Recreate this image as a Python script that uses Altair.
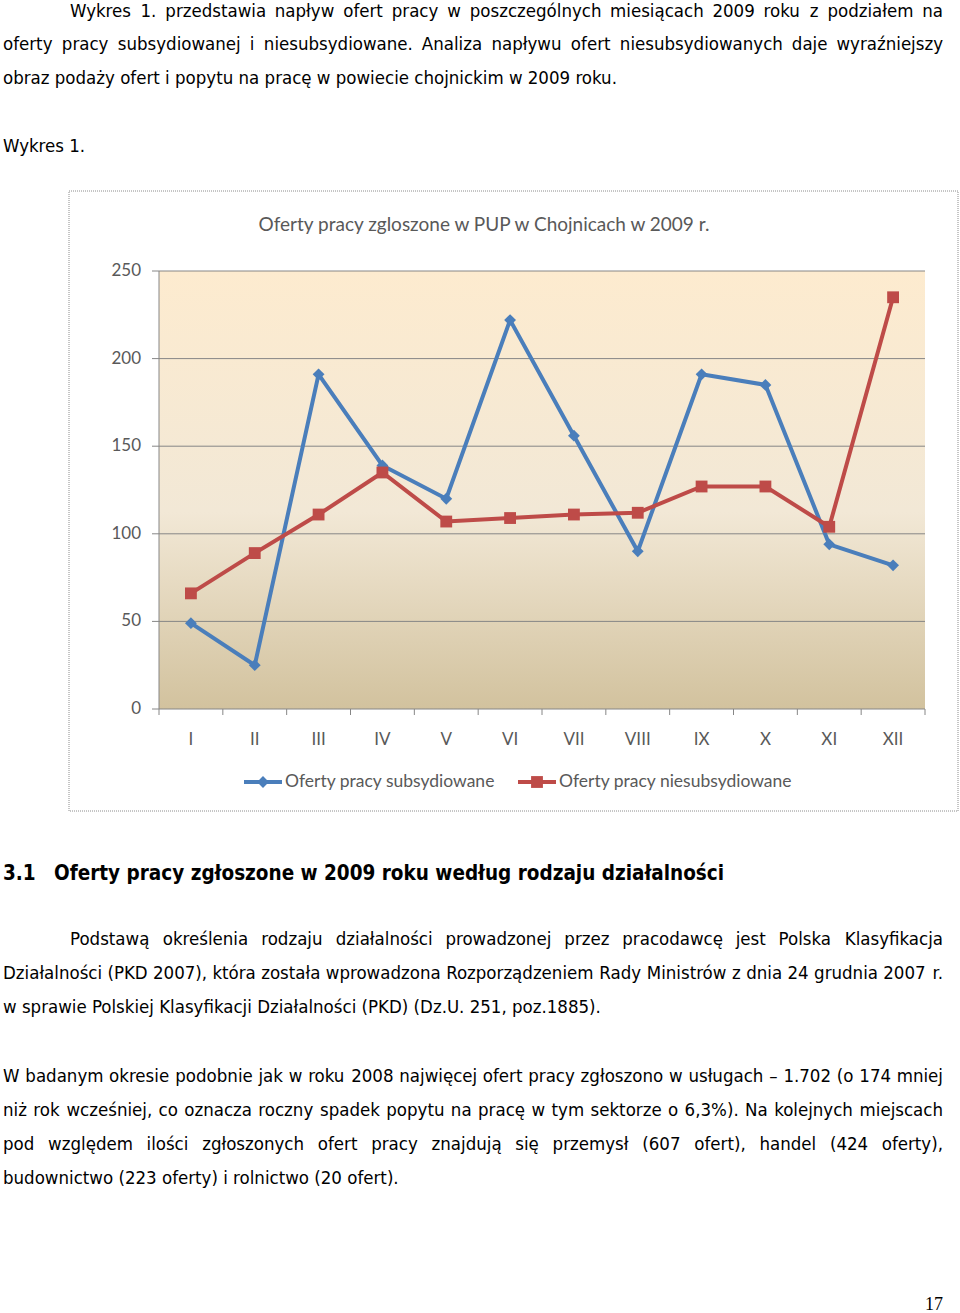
import altair as alt
import pandas as pd

# ---------------- data ----------------
months = ["I", "II", "III", "IV", "V", "VI", "VII", "VIII", "IX", "X", "XI", "XII"]
subsydiowane = [49, 25, 191, 139, 120, 222, 156, 90, 191, 185, 94, 82]
niesubsydiowane = [66, 89, 111, 135, 107, 109, 111, 112, 127, 127, 104, 235]
series_names = ["Oferty pracy subsydiowane", "Oferty pracy niesubsydiowane"]
y_ticks = [0, 50, 100, 150, 200, 250]
chart_title = "Oferty pracy zgloszone w PUP w Chojnicach w 2009 r."

para1 = [
    "Wykres 1. przedstawia napływ ofert pracy w poszczególnych miesiącach 2009 roku z podziałem na",
    "oferty pracy subsydiowanej i niesubsydiowane. Analiza napływu ofert niesubsydiowanych daje wyraźniejszy",
    "obraz podaży ofert i popytu na pracę w powiecie chojnickim w 2009 roku.",
]
caption = "Wykres 1."
heading_num = "3.1"
heading = "Oferty pracy zgłoszone w 2009 roku według rodzaju działalności"
para2 = [
    "Podstawą określenia rodzaju działalności prowadzonej przez pracodawcę jest Polska Klasyfikacja",
    "Działalności (PKD 2007), która została wprowadzona Rozporządzeniem Rady Ministrów z dnia 24 grudnia 2007 r.",
    "w sprawie Polskiej Klasyfikacji Działalności (PKD) (Dz.U. 251, poz.1885).",
]
para3 = [
    "W badanym okresie podobnie jak w roku 2008 najwięcej ofert pracy zgłoszono w usługach – 1.702 (o 174 mniej",
    "niż rok wcześniej, co oznacza roczny spadek popytu na pracę w tym sektorze o 6,3%). Na kolejnych miejscach",
    "pod względem ilości zgłoszonych ofert pracy znajdują się przemysł (607 ofert), handel (424 oferty),",
    "budownictwo (223 oferty) i rolnictwo (20 ofert).",
]
page_number = "17"

# ---------------- layout constants ----------------
W, H = 960, 1313
PX0, PX1 = 159, 925      # plot area x range
PY0, PY1 = 709, 271      # plot area y range (0 -> 250)
BLUE = "#4A7EBB"
RED = "#BE4B48"
AXIS = "#868686"
LABEL = "#595959"
BODY_FONT = "DejaVu Sans Condensed"
BODY_SIZE = 18.5
CHART_FONT = "Lato"
TEXT_L, TEXT_R, INDENT = 3, 943, 70

# approximate glyph advance widths (DejaVu Sans, units of 1/2048 em) for text layout only
GW = {" ": 651, "!": 821, "(": 799, ")": 799, ",": 651, "-": 739, ".": 651, "/": 690, ":": 690,
      "%": 1946, "–": 1024,
      "A": 1401, "B": 1405, "C": 1430, "D": 1577, "E": 1294, "F": 1178, "G": 1587, "H": 1540,
      "I": 604, "J": 604, "K": 1343, "L": 1141, "M": 1767, "N": 1532, "O": 1612, "P": 1235,
      "R": 1423, "S": 1300, "T": 1251, "U": 1499, "V": 1401, "W": 2025, "Y": 1251, "Z": 1403,
      "a": 1255, "b": 1300, "c": 1126, "d": 1300, "e": 1260, "f": 721, "g": 1300, "h": 1298,
      "i": 569, "j": 569, "k": 1186, "l": 569, "m": 1995, "n": 1298, "o": 1253, "p": 1300,
      "q": 1300, "r": 842, "s": 1067, "t": 803, "u": 1298, "v": 1212, "w": 1675, "x": 1212,
      "y": 1212, "z": 1075,
      "ą": 1255, "ę": 1260, "ł": 600, "ń": 1298, "ó": 1253, "ś": 1067, "ź": 1075, "ż": 1075,
      "ć": 1126, "Ś": 1300}
for _d in "0123456789":
    GW[_d] = 1303


def est(s):
    return sum(GW.get(ch, 1200) for ch in s)


# calibrate against a rendered, non-justified line (width ~613 px at BODY_SIZE)
PX_PER_UNIT = 613.0 / est(para1[2])


def justify(line, left, right, y):
    words = line.split(" ")
    widths = [est(w) * PX_PER_UNIT for w in words]
    gap = (right - left - sum(widths)) / (len(words) - 1)
    rows, x = [], left
    for i, (w, wd) in enumerate(zip(words, widths)):
        if i == len(words) - 1:
            rows.append({"t": w, "x": right, "y": y, "a": "right"})
        else:
            rows.append({"t": w, "x": x, "y": y, "a": "left"})
        x += wd + gap
    return rows


def plain(line, left, y):
    return [{"t": line, "x": left, "y": y, "a": "left"}]


body_rows = []
body_rows += justify(para1[0], INDENT, TEXT_R, 11)
body_rows += justify(para1[1], TEXT_L, TEXT_R, 44)
body_rows += plain(para1[2], TEXT_L, 78)
body_rows += plain(caption, TEXT_L, 146)
body_rows += justify(para2[0], INDENT, TEXT_R, 939)
body_rows += justify(para2[1], TEXT_L, TEXT_R, 973)
body_rows += plain(para2[2], TEXT_L, 1007)
body_rows += justify(para3[0], TEXT_L, TEXT_R, 1076)
body_rows += justify(para3[1], TEXT_L, TEXT_R, 1110)
body_rows += justify(para3[2], TEXT_L, TEXT_R, 1144)
body_rows += plain(para3[3], TEXT_L, 1178)
body_df = pd.DataFrame(body_rows)

df = pd.DataFrame({
    "month": months * 2,
    "value": subsydiowane + niesubsydiowane,
    "series": [series_names[0]] * 12 + [series_names[1]] * 12,
})
ticks_df = pd.DataFrame({"v": y_ticks})
months_df = pd.DataFrame({"month": months})

xs = alt.Scale(type="band", domain=months, range=[PX0, PX1], paddingInner=0, paddingOuter=0)
ys = alt.Scale(domain=[0, 250], range=[PY0, PY1], nice=False, zero=False)
cs = alt.Scale(domain=series_names, range=[BLUE, RED])
shp = alt.Scale(domain=series_names, range=["diamond", "square"])


def X(field, band=None):
    if band is None:
        return alt.X(field, scale=None, axis=None)
    return alt.X(field, scale=xs, bandPosition=band, sort=months, axis=None)


def Y(field):
    return alt.Y(field, scale=ys, axis=None)


base = alt.Chart(df)

bg = alt.Chart(pd.DataFrame({"a": [0], "b": [250]})).mark_rect(
    fill=alt.Gradient(
        gradient="linear", x1=0, x2=0, y1=0, y2=1,
        stops=[
            alt.GradientStop(offset=0, color="#FDEBCF"),
            alt.GradientStop(offset=0.55, color="#F2E8D6"),
            alt.GradientStop(offset=1, color="#D2C29E"),
        ],
    )
).encode(x=alt.value(PX0), x2=alt.value(PX1), y=Y("a:Q"), y2="b:Q")

frame = alt.Chart(pd.DataFrame({"a": [0]})).mark_rect(
    fill=None, stroke="#8c8c8c", strokeWidth=1, strokeDash=[1, 1]
).encode(x=alt.value(69), x2=alt.value(958), y=alt.value(191), y2=alt.value(811))

grid = alt.Chart(ticks_df).transform_filter("datum.v > 0").mark_rule(color=AXIS, strokeWidth=1).encode(
    y=Y("v:Q"), x=alt.value(PX0), x2=alt.value(PX1)
)
ytick_marks = alt.Chart(ticks_df).mark_rule(color=AXIS, strokeWidth=1).encode(
    y=Y("v:Q"), x=alt.value(152), x2=alt.value(PX0)
)
ylabels = alt.Chart(ticks_df).mark_text(
    align="right", baseline="middle", font=CHART_FONT, fontSize=17, color=LABEL
).encode(y=Y("v:Q"), x=alt.value(141), text="v:Q")

y_axis_line = alt.Chart(pd.DataFrame({"a": [0], "b": [250]})).mark_rule(color=AXIS).encode(
    x=alt.value(PX0), y=Y("a:Q"), y2="b:Q"
)
x_axis_line = alt.Chart(pd.DataFrame({"a": [0]})).mark_rule(color=AXIS).encode(
    y=Y("a:Q"), x=alt.value(PX0), x2=alt.value(PX1)
)
xtick_marks = alt.Chart(months_df).mark_rule(color=AXIS).encode(
    x=X("month:N", 0), y=alt.value(PY0), y2=alt.value(PY0 + 6)
)
xtick_end = alt.Chart(months_df).transform_filter(alt.datum.month == months[-1]).mark_rule(color=AXIS).encode(
    x=X("month:N", 1), y=alt.value(PY0), y2=alt.value(PY0 + 6)
)
xlabels = alt.Chart(months_df).mark_text(
    font=CHART_FONT, fontSize=17, color=LABEL, baseline="middle"
).encode(x=X("month:N", 0.5), y=alt.value(740), text="month:N")

lines = base.mark_line(strokeWidth=4).encode(
    x=X("month:N", 0.5),
    y=Y("value:Q"),
    color=alt.Color("series:N", scale=cs, legend=None),
    detail="series:N",
)
points = base.mark_point(filled=True, opacity=1, size=140).encode(
    x=X("month:N", 0.5),
    y=Y("value:Q"),
    color=alt.Color("series:N", scale=cs, legend=None),
    shape=alt.Shape("series:N", scale=shp, legend=None),
)

title = alt.Chart(pd.DataFrame({"t": [chart_title]})).mark_text(
    font=CHART_FONT, fontSize=19, color=LABEL, align="center", baseline="middle"
).encode(x=alt.value(484), y=alt.value(225), text="t:N")

leg_df = pd.DataFrame({
    "series": series_names,
    "x0": [244, 518],
    "xm": [263, 537],
    "x1": [282, 556],
    "xt": [285, 559],
})
leg_lines = alt.Chart(leg_df).mark_rule(strokeWidth=4).encode(
    x=X("x0:Q"), x2="x1:Q", y=alt.value(782),
    color=alt.Color("series:N", scale=cs, legend=None),
)
leg_pts = alt.Chart(leg_df).mark_point(filled=True, opacity=1, size=140).encode(
    x=X("xm:Q"), y=alt.value(782),
    color=alt.Color("series:N", scale=cs, legend=None),
    shape=alt.Shape("series:N", scale=shp, legend=None),
)
leg_txt = alt.Chart(leg_df).mark_text(
    align="left", baseline="middle", font=CHART_FONT, fontSize=17.5, color=LABEL
).encode(x=X("xt:Q"), y=alt.value(782), text="series:N")


def text_layer(d, size=BODY_SIZE, weight="normal", font=BODY_FONT, align="left"):
    return alt.Chart(d).mark_text(
        align=align, baseline="middle", font=font, fontSize=size, fontWeight=weight, color="#000000"
    ).encode(
        x=alt.X("x:Q", scale=None, axis=None),
        y=alt.Y("y:Q", scale=None, axis=None),
        text="t:N",
    )


body_left = text_layer(body_df[body_df["a"] == "left"], align="left")
body_right = text_layer(body_df[body_df["a"] == "right"], align="right")
t_head = text_layer(pd.DataFrame({"t": [heading_num, heading], "x": [3, 54], "y": [874, 874]}),
                    size=20.5, weight="bold")
t_pg = text_layer(pd.DataFrame({"t": [page_number], "x": [934], "y": [1305]}),
                  size=18, font="Liberation Serif", align="center")

chart = alt.layer(
    frame, bg, grid, y_axis_line, ytick_marks, ylabels, x_axis_line, xtick_marks, xtick_end, xlabels,
    lines, points, title, leg_lines, leg_pts, leg_txt,
    body_left, body_right, t_head, t_pg,
).resolve_scale(
    x="independent", y="independent"
).properties(
    width=W, height=H, autosize=alt.AutoSizeParams(type="none"), padding=0, background="white"
).configure_view(stroke=None)

chart.save("out.html", embed_options={"renderer": "svg", "actions": False})
